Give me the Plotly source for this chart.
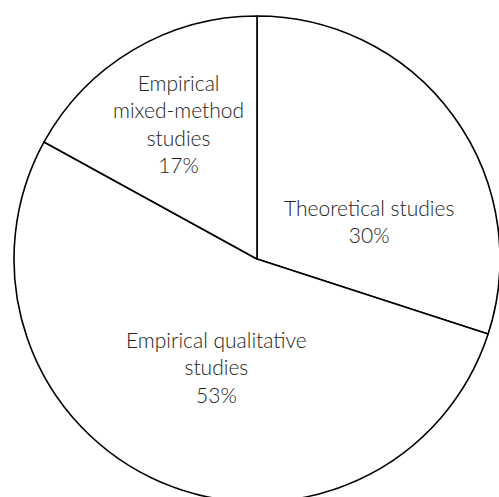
import plotly.graph_objects as go

# Data
categories = ["Theoretical studies", "Empirical qualitative studies", "Empirical mixed-method studies"]
shares = [30, 53, 17]
label_lines = [["Theoretical studies"], ["Empirical qualitative", "studies"], ["Empirical", "mixed-method", "studies"]]

fig = go.Figure(go.Pie(
    labels=categories,
    values=shares,
    sort=False,
    direction="clockwise",
    rotation=0,
    textinfo="none",
    hoverinfo="label+percent",
    marker=dict(colors=["white"] * len(shares), line=dict(color="black", width=1.6)),
    showlegend=False,
))

# label placement (paper coordinates within the pie domain)
label_pos = [(0.730, 0.578), (0.4167, 0.278), (0.3395, 0.778)]
total = sum(shares)
for lines, v, (x, y) in zip(label_lines, shares, label_pos):
    txt = "<br>".join(lines + [f"{round(100 * v / total)}%"])
    fig.add_annotation(x=x, y=y, xref="paper", yref="paper", xanchor="center", yanchor="middle",
                       text=txt, showarrow=False, align="center",
                       font=dict(family="Lato Light, Lato", size=21, color="#222222"))

fig.update_layout(
    width=500, height=502,
    margin=dict(l=14, r=0, t=16, b=0),
    paper_bgcolor="white", plot_bgcolor="white",
)
fig.write_html("out.html", post_script="document.body.style.overflow='hidden';document.body.style.margin='0';")
